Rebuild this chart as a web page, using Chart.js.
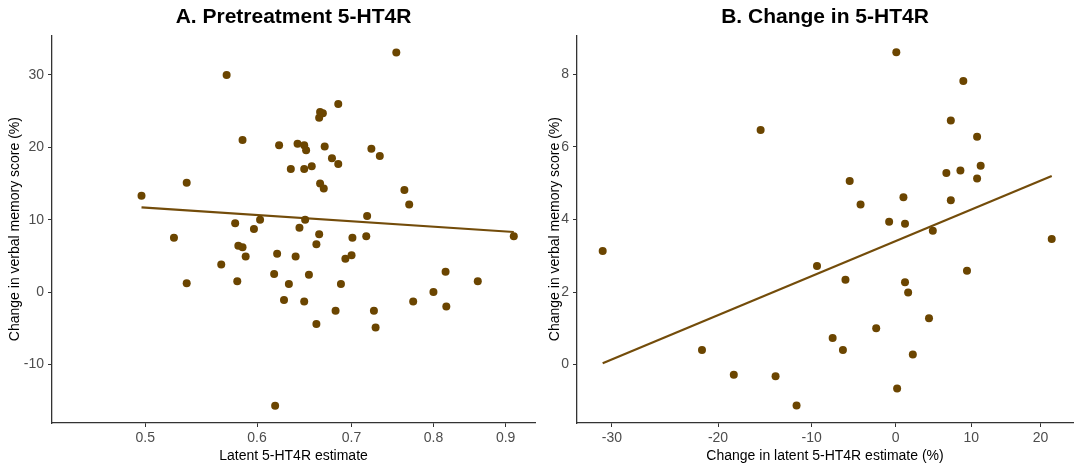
<!DOCTYPE html>
<html>
<head>
<meta charset="utf-8">
<script src="https://cdn.jsdelivr.net/npm/chart.js@4"></script>
<style>
  body { margin: 0; background: #fff; }
  .panel { position: absolute; top: 0; width: 540px; height: 469px; }
</style>
</head>
<body>
<div class="panel" style="left:0"><canvas id="chartA" width="540" height="469"></canvas></div>
<div class="panel" style="left:540px"><canvas id="chartB" width="540" height="469"></canvas></div>
<script>
// Panel A: pretreatment latent 5-HT4R estimate vs change in verbal memory (%)
const pretreatX = [0.497, 0.524, 0.535, 0.535, 0.566, 0.571, 0.579, 0.581, 0.582, 0.586, 0.586, 0.589, 0.597, 0.603,
  0.617, 0.618, 0.620, 0.622, 0.627, 0.632, 0.634, 0.639, 0.641, 0.643, 0.648, 0.648, 0.648, 0.649, 0.650, 0.653,
  0.656, 0.661, 0.661, 0.664, 0.664, 0.665, 0.665, 0.668, 0.669, 0.670, 0.678, 0.682, 0.685, 0.685, 0.688, 0.693,
  0.700, 0.701, 0.717, 0.718, 0.723, 0.726, 0.728, 0.733, 0.753, 0.763, 0.769, 0.774, 0.800, 0.816, 0.817, 0.860, 0.912];
const pretreatY = [13.3, 7.5, 15.1, 1.2, 3.8, 30.0, 9.5, 1.5, 6.4, 6.2, 21.0, 4.9, 8.7, 10.0,
  2.5, -15.7, 5.3, 20.3, -1.1, 1.1, 17.0, 4.9, 20.5, 8.9, 20.3, 17.0, -1.3, 10.0, 19.6, 2.4,
  17.4, 6.6, -4.4, 24.1, 8.0, 24.9, 15.0, 24.7, 14.3, 20.1, 18.5, -2.6, 26.0, 17.7, 1.1, 4.6,
  5.1, 7.5, 7.7, 10.5, 19.8, -2.6, -4.9, 18.8, 33.1, 14.1, 12.1, -1.3, 0.0, 2.8, -2.0, 1.5, 7.7];
const fitAX = [0.497, 0.912];
const fitAY = [11.7, 8.3];
const ticksAX = [0.5, 0.6, 0.7, 0.8, 0.9];

// Panel B: change in latent 5-HT4R estimate (%) vs change in verbal memory (%)
const changeX = [-30.8, -21.6, -18.4, -15.6, -14.0, -11.7, -9.4, -7.6, -6.4, -6.1, -5.6, -4.3, -2.4, -0.8,
  0.1, 0.2, 1.0, 1.2, 1.2, 1.6, 2.2, 4.3, 4.8, 6.6, 7.2, 7.2, 8.5, 8.9, 9.4, 10.8, 10.8, 11.3, 21.7];
const changeY = [3.13, 0.40, -0.28, 6.47, -0.32, -1.13, 2.72, 0.73, 0.40, 2.34, 5.06, 4.41, 1.00, 3.94,
  8.61, -0.66, 4.61, 3.88, 2.27, 1.99, 0.28, 1.28, 3.69, 5.28, 6.73, 4.53, 5.35, 7.82, 2.59, 6.28, 5.13, 5.48, 3.46];
const fitBX = [-30.8, 21.7];
const fitBY = [0.04, 5.20];
const ticksBX = [-30, -20, -10, 0, 10, 20];

const brown = '#6b4500';
const font = 'Arial, "Liberation Sans", sans-serif';

// the x axis of panel B is a log-ratio scale: plot 1 + pct/100 on a log axis
const toRatio = p => 1 + p / 100;

function makeChart(id, cfg) {
  const pts = cfg.xs.map((x, i) => ({ x: cfg.tx(x), y: cfg.ys[i] }));
  const fit = cfg.fitX.map((x, i) => ({ x: cfg.tx(x), y: cfg.fitY[i] }));
  return new Chart(document.getElementById(id).getContext('2d'), {
    type: 'scatter',
    data: {
      datasets: [
        { data: fit, type: 'line', borderColor: '#734c0a', borderWidth: 2.2, pointRadius: 0, fill: false, order: 2 },
        { data: pts, backgroundColor: brown, borderColor: brown, pointRadius: 4, pointBorderWidth: 0, order: 1 }
      ]
    },
    options: {
      responsive: false,
      animation: false,
      layout: { padding: { left: 0, right: cfg.padRight, top: 0, bottom: 0 } },
      plugins: {
        legend: { display: false },
        tooltip: { enabled: false },
        title: { display: true, fullSize: false, text: cfg.title, color: '#000',
          font: { family: font, size: 21, weight: 'bold' }, padding: { top: 5, bottom: 5 } }
      },
      scales: {
        x: {
          type: 'logarithmic',
          min: cfg.xMin, max: cfg.xMax,
          afterBuildTicks: s => { s.ticks = cfg.xTicks.map(v => ({ value: cfg.tx(v) })); },
          afterFit: s => { s.height = 46; },
          ticks: { color: '#4d4d4d', font: { family: font, size: 14 }, padding: 3, autoSkip: false, maxRotation: 0,
            callback: cfg.xLabel },
          grid: { display: true, drawOnChartArea: false, drawTicks: true, tickLength: 4, color: '#333' },
          border: { display: true, color: '#333', width: 1.3 },
          title: { display: true, text: cfg.xTitle, color: '#000', font: { family: font, size: 14 }, padding: { top: 0, bottom: 4 } }
        },
        y: {
          min: cfg.yMin, max: cfg.yMax,
          afterBuildTicks: s => { s.ticks = cfg.yTicks.map(v => ({ value: v })); },
          afterFit: s => { s.width = cfg.yWidth; },
          ticks: { color: '#4d4d4d', font: { family: font, size: 14 }, padding: 4 },
          grid: { display: true, drawOnChartArea: false, drawTicks: true, tickLength: 4, color: '#333' },
          border: { display: true, color: '#333', width: 1.3 },
          title: { display: true, text: 'Change in verbal memory score (%)', color: '#000', font: { family: font, size: 14 }, padding: { top: 7, bottom: 0 } }
        }
      }
    }
  });
}

makeChart('chartA', {
  title: 'A. Pretreatment 5-HT4R',
  xs: pretreatX, ys: pretreatY, fitX: fitAX, fitY: fitAY,
  tx: v => v,
  xMin: 0.4295, xMax: 0.9441, xTicks: ticksAX,
  xLabel: v => v.toFixed(1),
  xTitle: 'Latent 5-HT4R estimate',
  yMin: -18.1, yMax: 35.5, yTicks: [-10, 0, 10, 20, 30],
  yWidth: 52, padRight: 5
});

makeChart('chartB', {
  title: 'B. Change in 5-HT4R',
  xs: changeX, ys: changeY, fitX: fitBX, fitY: fitBY,
  tx: toRatio,
  xMin: 0.673, xMax: 1.25, xTicks: ticksBX,
  xLabel: v => String(Math.round((v - 1) * 100)),
  xTitle: 'Change in latent 5-HT4R estimate (%)',
  yMin: -1.61, yMax: 9.08, yTicks: [0, 2, 4, 6, 8],
  yWidth: 37, padRight: 7
});
</script>
</body>
</html>
